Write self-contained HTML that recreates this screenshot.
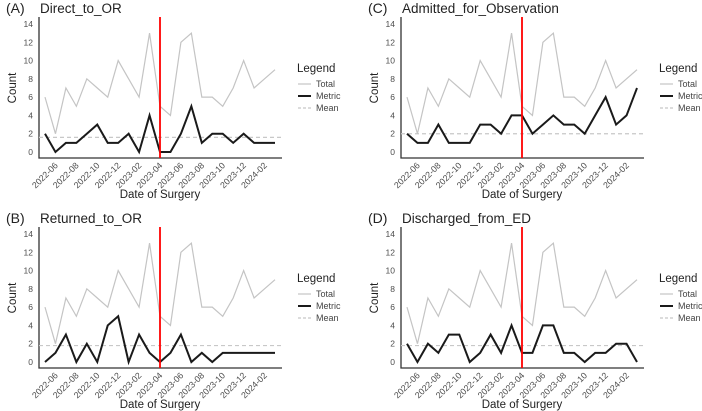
<!DOCTYPE html>
<html><head><meta charset="utf-8"><style>
html,body{margin:0;padding:0;background:#fff;}
svg{display:block;font-family:"Liberation Sans",sans-serif;}
</style></head><body>
<svg id="chart" width="702" height="411" viewBox="0 0 702 411" xmlns="http://www.w3.org/2000/svg"></svg>
<script>
const months = ["2022-05","2022-06","2022-07","2022-08","2022-09","2022-10","2022-11","2022-12","2023-01","2023-02","2023-03","2023-04","2023-05","2023-06","2023-07","2023-08","2023-09","2023-10","2023-11","2023-12","2024-01","2024-02","2024-03"];
const tickLabels = ["2022-06","2022-08","2022-10","2022-12","2023-02","2023-04","2023-06","2023-08","2023-10","2023-12","2024-02"];
const yTicks = [0,2,4,6,8,10,12,14];
const totalSeries = [6,2,7,5,8,7,6,10,8,6,13,5,4,12,13,6,6,5,7,10,7,8,9];
const directMetric = [2,0,1,1,2,3,1,1,2,0,4,0,0,2,5,1,2,2,1,2,1,1,1];
const returnedMetric = [0,1,3,0,2,0,4,5,0,3,1,0,1,3,0,1,0,1,1,1,1,1,1];
const admittedMetric = [2,1,1,3,1,1,1,3,3,2,4,4,2,3,4,3,3,2,4,6,3,4,7];
const dischargedMetric = [2,0,2,1,3,3,0,1,3,1,4,1,1,4,4,1,1,0,1,1,2,2,0];
const panelLetters = ["(A)","(B)","(C)","(D)"];
const panelTitles = ["Direct_to_OR","Returned_to_OR","Admitted_for_Observation","Discharged_from_ED"];
const panelMeans = [1.6,1.8,2.0,1.8];
const interventionMonth = "2023-04";

const NS="http://www.w3.org/2000/svg";
const svg=document.getElementById('chart');
function mk(tag,attrs,parent){const e=document.createElementNS(NS,tag);for(const k in attrs)e.setAttribute(k,attrs[k]);(parent||svg).appendChild(e);return e;}

function drawPanel(p, dx, dy, metric){
  const g=mk('g',{transform:`translate(${dx},${dy})`});
  
  
  const x0=45, x1=275, yBase=152, yTop=24;
  const xs=i=>x0+(x1-x0)*i/(months.length-1);
  const ys=v=>yBase-(yBase-yTop)*v/14;
  let t=mk('text',{x:6,y:13,'font-size':14,fill:'#222'},g);t.textContent=panelLetters[p];
  
  
  t=mk('text',{x:40,y:13,'font-size':13.5,fill:'#222'},g);t.textContent=panelTitles[p];
  
  
  let a=mk('path',{d:`M39,17 V158 H282`,stroke:'#333','stroke-width':1.3,fill:'none'},g);
  
  
  yTicks.forEach(v=>{const e=mk('text',{x:33,y:ys(v)+3,'font-size':8.5,fill:'#4d4d4d','text-anchor':'end'},g);e.textContent=v;
    
    });
  tickLabels.forEach(l=>{const i=months.indexOf(l);const X=xs(i),Y=163;
    const e=mk('text',{x:X+3,y:Y+3,'font-size':8.8,fill:'#4d4d4d','text-anchor':'end',transform:`rotate(-45 ${X+3} ${Y+3})`},g);e.textContent=l;
    
    });
  t=mk('text',{x:160,y:198,'font-size':11.5,fill:'#222','text-anchor':'middle'},g);t.textContent='Date of Surgery';
  
  
  t=mk('text',{x:16,y:88,'font-size':11.5,fill:'#222','text-anchor':'middle',transform:'rotate(-90 16 88)'},g);t.textContent='Count';
  
  
  let m=mk('line',{x1:39,x2:282,y1:ys(panelMeans[p]),y2:ys(panelMeans[p]),stroke:'#c8c8c8','stroke-width':1.2,'stroke-dasharray':'4,3'},g);
  
  
  let l=mk('polyline',{points:totalSeries.map((v,i)=>xs(i)+','+ys(v)).join(' '),fill:'none',stroke:'#c4c4c4','stroke-width':1.2},g);
  
  
  l=mk('polyline',{points:metric.map((v,i)=>xs(i)+','+ys(v)).join(' '),fill:'none',stroke:'#1a1a1a','stroke-width':2},g);
  
  
  const rx=xs(months.indexOf(interventionMonth));
  l=mk('line',{x1:rx,x2:rx,y1:17,y2:158,stroke:'#f00','stroke-width':1.8},g);
  
  
  const lg=mk('g',{},g);
  
  
  t=mk('text',{x:297,y:72,'font-size':11.5,fill:'#222'},lg);t.textContent='Legend';
  const items=[['Total','#c4c4c4',1.2,''],['Metric','#1a1a1a',2,''],['Mean','#c8c8c8',1.2,'3,2']];
  items.forEach((it,k)=>{const Y=84+k*12;
    const ln=mk('line',{x1:298,x2:311,y1:Y,y2:Y,stroke:it[1],'stroke-width':it[2]},lg);if(it[3])ln.setAttribute('stroke-dasharray',it[3]);
    const e=mk('text',{x:316,y:Y+3,'font-size':9,fill:'#444'},lg);e.textContent=it[0];
    
    });
}
drawPanel(0,0,0,directMetric);
drawPanel(1,0,210,returnedMetric);
drawPanel(2,362,0,admittedMetric);
drawPanel(3,362,210,dischargedMetric);
</script>
</body></html>
